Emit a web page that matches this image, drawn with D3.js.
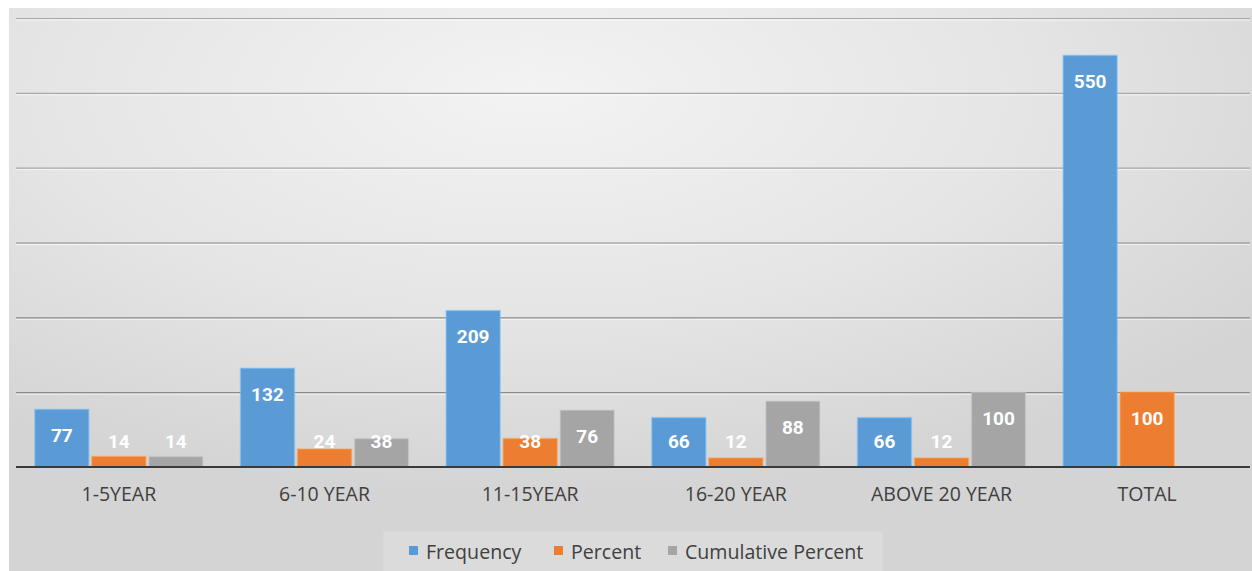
<!DOCTYPE html>
<html>
<head>
<meta charset="utf-8">
<script src="https://cdn.jsdelivr.net/npm/d3@7"></script>
<style>
  html, body { margin: 0; padding: 0; background: #ffffff; }
  svg { display: block; }
</style>
</head>
<body>
<svg id="chart" width="1252" height="571"></svg>
<script>
// Experience groups and their counts
const categories = ["1-5YEAR", "6-10 YEAR", "11-15YEAR", "16-20 YEAR", "ABOVE 20 YEAR", "TOTAL"];
const frequency = [77, 132, 209, 66, 66, 550];
const percent = [14, 24, 38, 12, 12, 100];
const cumulativePercent = [14, 38, 76, 88, 100, null];
const seriesNames = ["Frequency", "Percent", "Cumulative Percent"];
const yTicks = [0, 100, 200, 300, 400, 500, 600];

const seriesValues = [frequency, percent, cumulativePercent];
const colors = ["#5b9bd5", "#ed7d31", "#a5a5a5"];

const W = 1252, H = 571;
const svg = d3.select("#chart");

// Soft grey background panel
const defs = svg.append("defs");
const grad = defs.append("radialGradient")
  .attr("id", "bg")
  .attr("cx", "42%").attr("cy", "15%").attr("r", "72%");
grad.append("stop").attr("offset", "0%").attr("stop-color", "#f3f3f3");
grad.append("stop").attr("offset", "55%").attr("stop-color", "#e5e5e5");
grad.append("stop").attr("offset", "100%").attr("stop-color", "#d4d4d4");

svg.append("rect")
  .attr("x", 9).attr("y", 8)
  .attr("width", W - 9).attr("height", H - 8)
  .attr("fill", "url(#bg)");

const plotLeft = 16, plotRight = 1250, plotTop = 18, plotBottom = 467;

const x = d3.scaleBand()
  .domain(categories)
  .range([plotLeft, plotRight])
  .paddingInner(0).paddingOuter(0);

const xInner = d3.scaleBand()
  .domain(seriesNames)
  .range([0, x.bandwidth()])
  .paddingInner(0.053)
  .paddingOuter(0.33);

const y = d3.scaleLinear()
  .domain([yTicks[0], yTicks[yTicks.length - 1]])
  .range([plotBottom, plotTop]);

// Horizontal gridlines
const grid = svg.append("g")
  .attr("transform", `translate(${plotLeft},0)`)
  .call(d3.axisLeft(y).tickValues(yTicks.slice(1)).tickSize(-(plotRight - plotLeft)).tickFormat(""));
grid.select(".domain").remove();
grid.selectAll(".tick line")
  .attr("stroke", d => d >= 400 ? "#a8a8a8" : "#8a8a8a")
  .attr("stroke-width", 1.2);
grid.selectAll(".tick").each(function(d) {
  d3.select(this).append("line")
    .attr("x1", 0).attr("x2", plotRight - plotLeft)
    .attr("y1", 1.5).attr("y2", 1.5)
    .attr("stroke", "#ffffff").attr("stroke-opacity", 0.6).attr("stroke-width", 1);
});

// Bars
const groups = svg.append("g").selectAll("g")
  .data(categories)
  .join("g")
  .attr("transform", d => `translate(${x(d)},0)`);

const cells = groups.selectAll("g")
  .data((c, i) => seriesNames.map((s, k) => ({ series: s, k, value: seriesValues[k][i] }))
    .filter(d => d.value !== null))
  .join("g");

cells.append("rect")
  .attr("x", d => xInner(d.series))
  .attr("width", xInner.bandwidth())
  .attr("y", d => y(d.value))
  .attr("height", d => y(0) - y(d.value))
  .attr("fill", d => colors[d.k])
  .attr("stroke", d => d3.color(colors[d.k]).brighter(0.6))
  .attr("stroke-opacity", 0.5)
  .attr("stroke-width", 1.5);

// Value labels near the top of each bar, kept above the baseline for short bars
cells.append("text")
  .attr("x", d => xInner(d.series) + xInner.bandwidth() / 2)
  .attr("y", d => Math.min(y(d.value) + 26, y(0) - 26))
  .attr("text-anchor", "middle")
  .attr("dominant-baseline", "central")
  .attr("fill", "#ffffff")
  .attr("font-family", "Roboto, 'Open Sans', sans-serif")
  .attr("font-weight", "bold")
  .attr("font-size", 19)
  .text(d => d.value);

// Baseline
svg.append("line")
  .attr("x1", plotLeft).attr("x2", plotRight)
  .attr("y1", y(0)).attr("y2", y(0))
  .attr("stroke", "#3a3a3a").attr("stroke-width", 2.2);

// Category axis
const xAxis = svg.append("g")
  .attr("transform", `translate(0,${plotBottom})`)
  .call(d3.axisBottom(x).tickSize(0).tickPadding(20));
xAxis.select(".domain").remove();
xAxis.selectAll("text")
  .attr("fill", "#404040")
  .attr("font-family", "'Open Sans', sans-serif")
  .attr("font-size", 19.5);

// Legend
const legend = svg.append("g");
legend.append("rect")
  .attr("x", 383).attr("y", 531)
  .attr("width", 500).attr("height", 42)
  .attr("fill", "#ffffff").attr("fill-opacity", 0.18)
  .attr("stroke", "#d6d6d6").attr("stroke-width", 1);

const legendX = [409, 554, 668];
const items = legend.selectAll("g.item")
  .data(seriesNames)
  .join("g")
  .attr("class", "item")
  .attr("transform", (d, i) => `translate(${legendX[i]},551)`);
items.append("rect")
  .attr("x", 0).attr("y", -5)
  .attr("width", 9).attr("height", 9)
  .attr("fill", (d, i) => colors[i]);
items.append("text")
  .attr("x", 17).attr("y", 0)
  .attr("dominant-baseline", "central")
  .attr("fill", "#404040")
  .attr("font-family", "'Open Sans', sans-serif")
  .attr("font-size", 19.6)
  .text(d => d);
</script>
</body>
</html>
